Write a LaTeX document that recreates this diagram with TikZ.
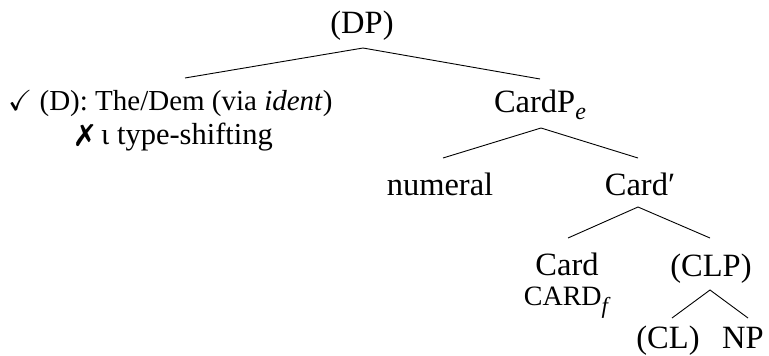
\documentclass[tikz,border=0pt]{standalone}
\usepackage{amssymb}
\usepackage{pifont}
\usepackage{fontspec}
\setmainfont{Liberation Serif}
\begin{document}
\begin{tikzpicture}[x=1pt,y=-1pt,
  lbl/.style={anchor=base,inner sep=0pt,font=\fontsize{32.5}{32.5}\selectfont},
  ann/.style={anchor=base west,inner sep=0pt,font=\fontsize{29}{29}\selectfont},
  ann2/.style={anchor=base west,inner sep=0pt,font=\fontsize{30.5}{30.5}\selectfont},
  edge/.style={draw=black,line width=0.9pt}]
\useasboundingbox (0,0) rectangle (769,356);
\node[lbl] (dp) at (362,33) {(DP)};
\node[ann] (d1) at (8,110) {$\checkmark$ (D): The/Dem (via \textit{ident})};
\node[ann2] (d2) at (76,144) {\ding{55} ι type-shifting};
\node[lbl] (cardp) at (540,112) {CardP\raisebox{-0.22em}{\fontsize{24}{24}\selectfont\itshape e}};
\node[lbl] (num) at (440,195) {numeral};
\node[lbl] (cardbar) at (640,195) {Card′};
\node[lbl] (card) at (567,275) {Card};
\node[lbl] (cardf) at (566,305) {\fontsize{28}{28}\selectfont CARD\raisebox{-0.3em}{\fontsize{23}{23}\selectfont\itshape f}};
\node[lbl] (clp) at (711,276) {(CLP)};
\node[lbl] (cl) at (668,348) {(CL)};
\node[lbl] (np) at (743,348) {NP};
\coordinate (dpA) at (363,48);
\coordinate (dE) at (185,78);
\coordinate (cpE) at (540,79);
\coordinate (cpA) at (541,128);
\coordinate (numE) at (443,158);
\coordinate (cbE) at (638,158);
\coordinate (cbA) at (638,207);
\coordinate (cardE) at (568,238);
\coordinate (clpE) at (710,238);
\coordinate (clpA) at (710,290);
\coordinate (clE) at (672,318);
\coordinate (npE) at (748,318);
\draw[edge] (dE) -- (dpA) -- (cpE);
\draw[edge] (numE) -- (cpA) -- (cbE);
\draw[edge] (cardE) -- (cbA) -- (clpE);
\draw[edge] (clE) -- (clpA) -- (npE);
\end{tikzpicture}
\end{document}
